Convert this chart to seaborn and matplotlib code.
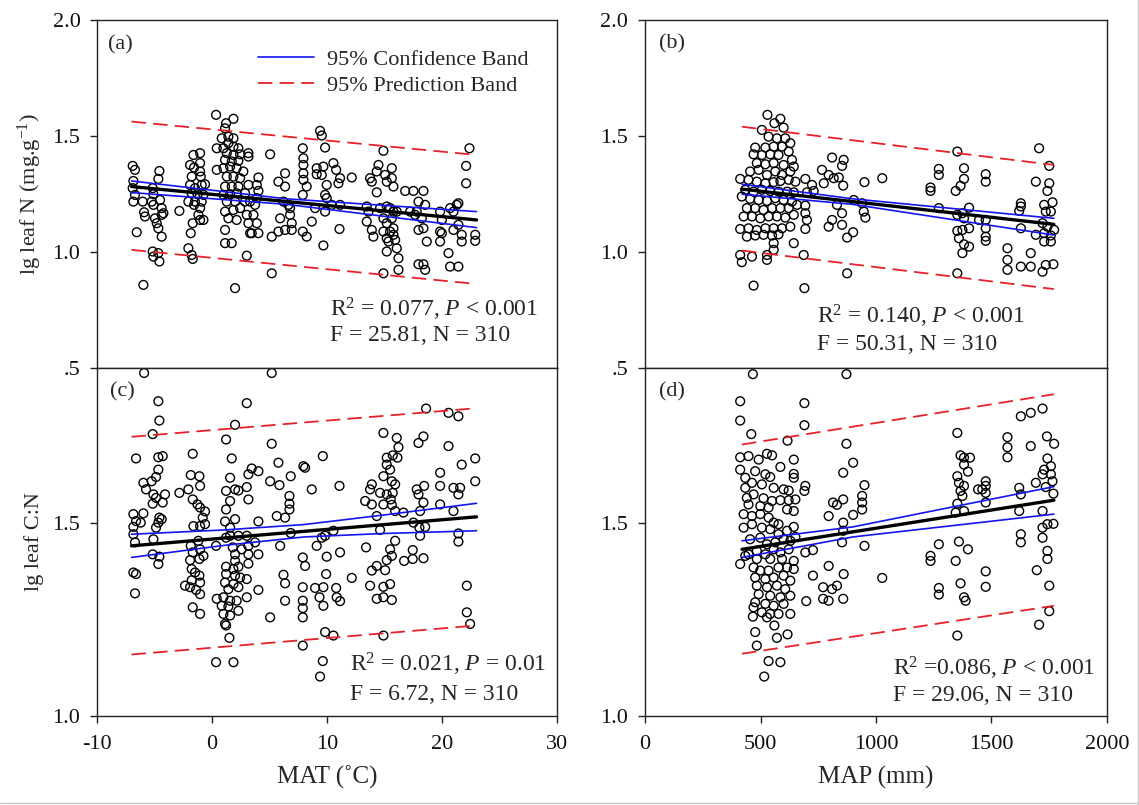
import matplotlib
matplotlib.use("Agg")
import matplotlib.pyplot as plt
import seaborn as sns
from matplotlib.lines import Line2D

# ---------------- data ----------------
# Panel (a): MAT vs lg leaf N
a_mat = [-6.90,-6.70,-6.84,-6.90,-6.70,-6.84,-6.55,-5.97,-6.03,-5.91,-5.83,-4.58,-4.67,-5.16,-5.10,-5.25,-4.52,-5.10,-4.38,-4.23,
         -4.96,-4.81,-4.67,-4.38,-5.16,-5.10,-4.67,-4.58,-4.38,-2.84,
         -1.62,-1.04,-1.91,-1.56,-1.04,-1.04,-1.77,-0.98,-1.91,-1.48,-0.90,-0.61,-1.77,-1.27,-0.75,-2.06,-1.48,-0.90,-1.56,-1.04,
         -1.19,-1.04,-1.68,-0.75,-1.85,-2.06,-1.77,-1.68,
         0.35,1.22,1.86,1.13,0.84,1.42,1.86,0.41,0.99,1.42,1.86,2.29,1.28,1.86,2.44,3.16,3.16,1.13,1.71,2.29,
         0.41,0.99,1.57,2.14,2.72,1.28,1.86,2.44,3.16,1.13,1.71,2.29,2.87,0.99,1.57,2.14,1.28,2.00,2.87,3.31,
         1.13,1.86,2.44,1.42,2.14,3.02,3.16,1.13,3.31,1.13,1.71,3.02,2.00,
         4.03,3.89,4.03,3.89,3.74,3.60,3.89,4.03,3.45,5.05,5.19,5.19,5.77,6.35,6.35,6.21,6.64,6.78,5.92,5.77,
         6.35,6.93,6.93,6.78,
         7.89,7.94,7.94,7.94,7.94,8.23,7.89,7.89,8.23,8.67,9.39,9.54,9.83,9.10,9.68,9.10,9.54,9.97,9.83,9.97,
         8.96,9.83,9.68,10.55,10.79,11.13,10.99,10.41,11.13,11.08,12.15,
         13.74,13.89,14.47,14.32,14.32,13.45,13.60,13.45,13.89,14.03,
         14.90,15.05,15.63,15.19,15.63,15.77,14.61,15.19,15.48,15.77,16.06,14.90,15.19,15.63,15.77,14.90,15.19,15.77,15.34,15.92,
         15.19,16.06,16.21,16.21,14.90,15.48,
         16.79,17.51,18.38,17.95,18.53,17.22,17.80,18.24,17.95,18.38,18.67,17.95,18.38,18.53,17.66,
         19.83,19.98,19.83,19.98,19.83,20.70,20.99,21.28,21.42,21.42,20.99,21.71,21.71,20.56,20.70,21.42,22.38,22.09,22.09,22.88,
         22.88]
a_lgN = [1.371,1.354,1.306,1.275,1.246,1.217,1.085,0.858,1.217,1.171,1.153,1.349,1.315,1.275,1.249,1.217,1.224,1.203,1.189,1.167,
         1.145,1.124,1.102,1.066,1.002,0.980,0.995,0.959,1.160,1.177,
         1.418,1.426,1.375,1.364,1.383,1.347,1.325,1.325,1.289,1.275,1.289,1.292,1.253,1.249,1.246,1.217,1.217,1.217,1.203,1.189,
         1.160,1.138,1.124,1.138,1.081,1.016,0.987,0.970,
         1.591,1.555,1.574,1.533,1.490,1.497,1.490,1.447,1.447,1.469,1.454,1.447,1.426,1.418,1.421,1.426,1.411,1.397,1.390,1.393,
         1.354,1.361,1.368,1.361,1.347,1.325,1.325,1.318,1.289,1.282,1.282,1.282,1.253,1.246,1.249,1.253,1.217,1.217,1.217,1.217,
         1.174,1.181,1.189,1.145,1.138,1.160,1.124,1.095,1.081,1.038,1.038,0.984,0.844,
         1.321,1.289,1.263,1.232,1.203,1.160,1.124,1.081,1.081,1.421,1.066,0.908,1.303,1.339,1.282,1.217,1.203,1.160,1.145,1.088,
         1.095,1.095,1.124,1.189,
         1.447,1.404,1.375,1.339,1.311,1.282,1.246,1.088,1.066,1.131,1.522,1.502,1.450,1.361,1.368,1.335,1.332,1.289,1.246,1.232,
         1.189,1.174,1.028,1.383,1.354,1.318,1.296,1.203,1.203,1.099,1.321,
         1.318,1.303,1.375,1.347,1.257,1.196,1.174,1.131,1.095,1.066,
         1.436,1.332,1.361,1.303,1.318,1.282,1.189,1.196,1.189,1.174,1.174,1.145,1.124,1.145,1.102,1.088,1.059,1.074,1.045,1.052,
         1.002,1.016,0.973,0.923,0.908,1.088,
         1.263,1.263,1.263,1.217,1.203,1.174,1.174,1.145,1.095,1.102,1.045,0.947,0.947,0.923,1.160,
         1.174,1.138,1.088,1.081,1.045,1.189,1.174,1.203,1.210,1.117,1.095,1.074,1.045,0.995,0.937,0.937,1.447,1.371,1.296,1.074,
         1.048]

# Panel (b): MAP vs lg leaf N
b_map = [530,560,586,600,506,535,571,607,629,477,521,557,593,470,506,542,578,622,636,484,
         521,557,600,644,455,492,528,564,593,629,412,448,484,521,557,586,622,651,434,470,
         506,542,578,615,644,419,455,492,528,564,600,636,441,477,513,550,586,622,658,427,
         463,499,535,571,607,644,412,448,484,521,557,593,629,441,477,513,550,578,644,557,
         557,412,419,463,528,528,470,694,701,694,694,701,694,687,690,723,730,
         810,860,853,766,795,817,839,774,858,831,853,810,795,853,875,901,904,875,950,1027,
         940,947,954,
         1272,1272,1236,1236,1345,1381,1381,1366,1352,1272,1403,1352,1374,1381,1352,1374,1403,1359,1381,1403,
         1374,1352,
         1475,1475,1446,1475,1475,1475,1475,1569,1569,1569,1627,1627,1620,1627,1627,1670,1670,1692,1706,1750,
         1750,1742,1764,1728,1735,1757,1721,1742,1771,1728,1757,1757,1728,1721,1735,1768,1692]
b_lgN = [1.591,1.555,1.574,1.536,1.526,1.497,1.490,1.490,1.469,1.450,1.450,1.454,1.454,1.421,1.418,1.421,1.418,1.433,1.397,1.383,
         1.378,1.383,1.375,1.368,1.347,1.354,1.332,1.347,1.332,1.347,1.315,1.311,1.303,1.296,1.301,1.306,1.311,1.303,1.268,1.260,
         1.268,1.263,1.260,1.260,1.257,1.239,1.229,1.224,1.220,1.232,1.224,1.217,1.189,1.189,1.181,1.189,1.189,1.189,1.203,1.153,
         1.153,1.145,1.153,1.153,1.148,1.160,1.099,1.102,1.095,1.102,1.102,1.102,1.109,1.066,1.071,1.074,1.071,1.076,1.038,1.038,
         1.009,0.987,0.956,0.980,0.987,0.966,0.855,1.315,1.257,1.200,1.167,1.138,1.099,0.987,0.844,1.289,1.263,
         1.407,1.397,1.371,1.354,1.332,1.318,1.321,1.296,1.286,1.203,1.167,1.138,1.109,1.117,1.062,1.085,1.224,0.908,1.301,1.318,
         1.210,1.174,1.148,
         1.358,1.332,1.278,1.263,1.263,1.361,1.315,1.285,1.433,1.189,1.191,1.160,1.167,1.145,1.091,1.095,1.102,1.059,1.033,1.023,
         0.995,0.908,
         1.335,1.303,1.138,1.138,1.102,1.066,1.048,1.016,0.966,0.923,1.210,1.196,1.177,1.102,0.937,0.995,0.937,1.303,1.447,1.371,
         1.296,1.263,1.214,1.203,1.174,1.174,1.124,1.109,1.095,1.081,1.071,1.045,1.045,0.915,0.944,0.947,1.074]

# Panel (c): MAT vs lg leaf C:N
c_mat = [-5.91,5.19,-4.67,-4.58,-5.16,3.02,2.00,1.22,5.19,-6.61,-4.67,-4.29,-1.68,1.71,5.77,9.63,7.94,8.09,6.84,3.45,
         3.16,4.03,5.05,5.86,8.67,11.08,6.73,6.73,6.73,5.63,6.35,4.03,6.84,5.92,9.10,9.54,9.83,10.55,7.89,8.09,
         9.97,11.13,6.21,6.35,9.92,12.15,7.89,8.96,9.68,10.79,9.34,6.35,7.89,7.89,7.89,9.68,10.84,11.13,5.05,9.83,
         10.55,7.89,9.63,9.39,0.35,1.86,1.51,1.22,
         -6.84,-5.97,-6.61,-6.84,-6.20,-6.84,-6.70,-5.10,-6.84,-6.61,-6.70,-5.16,-4.58,-4.67,-5.97,-5.74,-5.25,-4.87,-4.67,-5.10,
         -4.87,-4.29,-4.09,-5.16,-4.58,-4.67,-4.87,-4.38,
         -2.84,-2.06,-1.85,-1.10,-1.68,-1.04,-1.27,-1.04,-0.61,-0.81,-1.62,-1.04,-0.61,-1.85,-1.19,-1.04,-1.68,-0.75,-1.10,-1.91,
         -1.77,-1.48,-1.10,-1.77,-1.04,-1.91,-1.39,-1.04,-1.68,-1.04,-2.35,
         1.57,1.22,2.00,2.29,3.02,3.16,1.57,1.22,1.13,2.00,1.57,1.22,1.57,2.29,3.02,3.16,3.74,0.35,1.80,2.58,
         2.00,3.16,2.00,1.22,1.86,2.29,3.16,1.22,2.00,2.44,3.02,1.13,1.86,2.29,1.42,0.41,0.99,1.57,2.14,3.02,
         0.84,1.42,2.29,0.99,1.57,1.13,4.03,4.03,
         14.90,16.06,16.21,15.19,15.71,16.12,15.19,15.48,14.90,15.63,15.92,13.89,13.74,14.61,15.19,15.71,15.54,13.31,13.89,14.90,
         15.63,15.92,14.32,14.61,15.92,13.39,15.48,15.63,15.19,14.32,13.89,15.05,15.48,14.90,13.74,14.32,14.90,15.63,14.90,
         17.95,18.38,16.64,17.51,18.09,18.38,17.45,18.38,16.70,17.45,18.03,18.53,18.09,17.95,18.44,17.80,
         20.56,19.83,19.83,20.99,21.57,21.42,19.83,20.99,21.71,22.88,22.88,21.42,21.42,22.15,22.15,22.44,18.61,20.56,21.42]
c_lgCN = [1.887,1.887,1.814,1.764,1.729,1.809,1.753,1.715,1.704,1.666,1.669,1.672,1.678,1.666,1.655,1.672,1.646,1.642,1.620,1.640,
          1.625,1.633,1.607,1.597,1.586,1.595,1.569,1.549,1.534,1.517,1.513,1.503,1.473,1.440,1.440,1.461,1.466,1.479,1.410,1.388,
          1.412,1.423,1.365,1.343,1.367,1.357,1.333,1.331,1.333,1.331,1.307,1.298,1.298,1.279,1.255,1.285,1.307,1.297,1.255,1.217,
          1.208,1.182,1.142,1.102,1.139,1.139,1.202,1.234,
          1.522,1.524,1.504,1.489,1.500,1.470,1.449,1.457,1.371,1.367,1.317,1.418,1.412,1.393,1.603,1.586,1.607,1.618,1.637,1.573,
          1.564,1.552,1.573,1.549,1.513,1.500,1.487,1.509,
          1.577,1.586,1.623,1.620,1.560,1.595,1.547,1.539,1.529,1.513,1.491,1.491,1.496,1.440,1.453,1.431,1.423,1.414,1.406,1.403,
          1.380,1.371,1.363,1.351,1.345,1.333,1.326,1.315,1.281,1.264,1.337,
          1.616,1.582,1.586,1.583,1.592,1.560,1.556,1.534,1.503,1.509,1.487,1.461,1.466,1.466,1.466,1.440,1.449,1.440,1.436,1.431,
          1.418,1.418,1.401,1.386,1.380,1.386,1.394,1.367,1.363,1.358,1.354,1.345,1.341,1.333,1.328,1.303,1.307,1.298,1.298,1.307,
          1.285,1.283,1.272,1.264,1.260,1.238,1.326,1.418,
          1.732,1.719,1.695,1.668,1.674,1.668,1.650,1.637,1.620,1.607,1.599,1.599,1.586,1.577,1.573,1.577,1.560,1.556,1.547,1.547,
          1.546,1.530,1.517,1.481,1.453,1.436,1.431,1.414,1.403,1.388,1.376,1.377,1.341,1.334,1.337,1.303,1.307,1.300,1.208,
          1.706,1.723,1.526,1.500,1.530,1.552,1.429,1.408,1.401,1.406,1.487,1.489,1.466,1.573,1.595,1.586,
          1.698,1.629,1.595,1.590,1.590,1.573,1.547,1.530,1.650,1.666,1.607,1.472,1.451,1.337,1.268,1.238,1.795,1.784,1.775]

# Panel (d): MAP vs lg leaf C:N
d_map = [467,872,412,412,460,690,690,617,872,901,858,950,694,690,940,940,940,901,858,814,
         831,795,858,858,853,950,694,727,795,727,860,831,810,771,771,795,858,698,1027,
         412,448,492,528,550,586,644,412,434,477,521,542,644,644,463,506,557,600,622,434,
         441,470,513,550,586,622,651,448,499,535,615,644,427,463,499,535,557,578,427,463,
         506,542,578,615,644,651,455,499,528,564,600,629,412,448,484,521,557,586,622,434,
         484,542,593,644,470,499,535,578,615,644,477,521,557,600,629,484,528,571,607,492,
         542,586,629,477,521,557,600,470,506,542,578,629,467,528,560,477,484,571,617,535,
         586,516,
         1352,1366,1381,1407,1381,1398,1352,1359,1381,1366,1374,1352,1381,1345,1272,1236,1236,1345,1359,1398,
         1366,1272,1272,1381,1388,1352,1442,1475,1475,1475,1475,1460,1475,1475,
         1569,1569,1569,1627,1670,1721,1670,1740,1771,1742,1757,1728,1757,1721,1764,1692,1735,1768,1620,1627,
         1620,1721,1742,1768,1721,1627,1627,1721,1742,1742,1696,1750,1750,1706]
d_lgCN = [1.884,1.884,1.814,1.764,1.729,1.809,1.752,1.712,1.704,1.655,1.629,1.597,1.595,1.582,1.569,1.552,1.534,1.520,1.560,1.552,
          1.546,1.517,1.500,1.479,1.449,1.440,1.423,1.429,1.388,1.363,1.367,1.337,1.328,1.333,1.303,1.298,1.303,1.297,1.357,
          1.669,1.672,1.663,1.678,1.674,1.644,1.663,1.637,1.616,1.633,1.625,1.618,1.626,1.616,1.603,1.599,1.590,1.586,1.583,1.590,
          1.564,1.573,1.563,1.556,1.558,1.558,1.560,1.547,1.543,1.539,1.534,1.530,1.522,1.517,1.522,1.513,1.500,1.496,1.487,1.496,
          1.487,1.483,1.470,1.479,1.489,1.463,1.457,1.461,1.444,1.449,1.457,1.453,1.393,1.418,1.427,1.418,1.431,1.423,1.431,1.414,
          1.406,1.406,1.406,1.401,1.384,1.376,1.376,1.384,1.384,1.380,1.358,1.354,1.358,1.363,1.350,1.337,1.333,1.337,1.328,1.315,
          1.311,1.307,1.311,1.294,1.290,1.285,1.290,1.281,1.268,1.264,1.264,1.264,1.257,1.255,1.234,1.217,1.182,1.202,1.211,1.142,
          1.139,1.102,
          1.732,1.674,1.668,1.668,1.650,1.632,1.620,1.603,1.595,1.582,1.569,1.549,1.530,1.526,1.444,1.414,1.401,1.401,1.451,1.431,
          1.343,1.331,1.314,1.307,1.298,1.208,1.586,1.607,1.595,1.577,1.552,1.586,1.374,1.334,
          1.721,1.695,1.669,1.775,1.784,1.795,1.698,1.723,1.704,1.666,1.646,1.637,1.625,1.625,1.607,1.603,1.592,1.575,1.590,1.573,
          1.530,1.530,1.496,1.497,1.487,1.470,1.449,1.461,1.427,1.406,1.377,1.337,1.271,1.236]

# Regression lines, confidence and prediction bands
a_line_x = [-7, 23];  a_fit = [1.282, 1.138]
a_ci_x = [-7, 6.5, 23]; a_ci_up = [1.306, 1.229, 1.174]; a_ci_lo = [1.256, 1.205, 1.105]
a_pi_up = [1.562, 1.418]; a_pi_lo = [1.009, 0.862]

b_line_x = [420, 1770]; b_fit = [1.271, 1.119]
b_ci_x = [420, 900, 1770]; b_ci_up = [1.292, 1.229, 1.145]; b_ci_lo = [1.249, 1.205, 1.073]
b_pi_up = [1.540, 1.375]; b_pi_lo = [1.006, 0.840]

c_line_x = [-7, 23]; c_fit = [1.440, 1.515]
c_ci_x = [-7, 1, 8, 15, 23]; c_ci_up = [1.470, 1.481, 1.495, 1.520, 1.550]; c_ci_lo = [1.410, 1.441, 1.463, 1.472, 1.479]
c_pi_up = [1.722, 1.796]; c_pi_lo = [1.159, 1.234]

d_line_x = [420, 1770]; d_fit = [1.431, 1.558]
d_ci_x = [420, 900, 1770]; d_ci_up = [1.453, 1.489, 1.593]; d_ci_lo = [1.410, 1.463, 1.522]
d_pi_up = [1.702, 1.832]; d_pi_lo = [1.161, 1.285]

stats_text = {
    "a": ["R$^2$ = 0.077, $P$ < 0.001", "F = 25.81, N = 310"],
    "b": ["R$^2$ = 0.140, $P$ < 0.001", "F = 50.31, N = 310"],
    "c": ["R$^2$ = 0.021, $P$ = 0.01", "F = 6.72, N = 310"],
    "d": ["R$^2$ =0.086, $P$ < 0.001", "F = 29.06, N = 310"],
}
legend_labels = ["95% Confidence Band", "95% Prediction Band"]

# ---------------- style ----------------
sns.set_theme(style="ticks")
plt.rcParams['font.family'] = ['Liberation Serif', 'DejaVu Serif']
plt.rcParams['mathtext.fontset'] = 'custom'
plt.rcParams['mathtext.rm'] = 'Liberation Serif'
plt.rcParams['mathtext.it'] = 'Liberation Serif:italic'
plt.rcParams['mathtext.bf'] = 'Liberation Serif:bold'
plt.rcParams['axes.unicode_minus'] = False
plt.rcParams['axes.linewidth'] = 1.0
plt.rcParams['axes.edgecolor'] = '#222222'

BLUE = '#1414f0'
RED = '#e8202a'

fig = plt.figure(figsize=(11.39, 8.05), dpi=100)
axA = fig.add_axes([0.0852, 0.5429, 0.4039, 0.4323])
axB = fig.add_axes([0.5663, 0.5429, 0.4056, 0.4323])
axC = fig.add_axes([0.0852, 0.1106, 0.4039, 0.4323])
axD = fig.add_axes([0.5663, 0.1106, 0.4056, 0.4323])


def draw_panel(ax, x, y, lx, fit, cix, ciu, cil, piu, pil):
    assert len(x) == len(y)
    sns.scatterplot(x=x, y=y, ax=ax, marker='o', s=40, facecolors='none',
                    edgecolors='black', linewidths=1.0, zorder=2, legend=False)
    sns.lineplot(x=cix, y=ciu, ax=ax, color=BLUE, lw=1.2, errorbar=None, zorder=3,
                 label=legend_labels[0])
    sns.lineplot(x=cix, y=cil, ax=ax, color=BLUE, lw=1.2, errorbar=None, zorder=3)
    sns.lineplot(x=lx, y=piu, ax=ax, color=RED, lw=1.3, linestyle=(0, (8, 4)),
                 errorbar=None, zorder=3, label=legend_labels[1])
    sns.lineplot(x=lx, y=pil, ax=ax, color=RED, lw=1.3, linestyle=(0, (8, 4)),
                 errorbar=None, zorder=3)
    sns.lineplot(x=lx, y=fit, ax=ax, color='black', lw=2.4, errorbar=None, zorder=4)
    if ax.get_legend() is not None:
        ax.get_legend().remove()


draw_panel(axA, a_mat, a_lgN, a_line_x, a_fit, a_ci_x, a_ci_up, a_ci_lo, a_pi_up, a_pi_lo)
draw_panel(axB, b_map, b_lgN, b_line_x, b_fit, b_ci_x, b_ci_up, b_ci_lo, b_pi_up, b_pi_lo)
draw_panel(axC, c_mat, c_lgCN, c_line_x, c_fit, c_ci_x, c_ci_up, c_ci_lo, c_pi_up, c_pi_lo)
draw_panel(axD, d_map, d_lgCN, d_line_x, d_fit, d_ci_x, d_ci_up, d_ci_lo, d_pi_up, d_pi_lo)

TICK_FS = 16
for ax in (axA, axB, axC, axD):
    for sp in ax.spines.values():
        sp.set_visible(True)
        sp.set_linewidth(1.0)
    ax.tick_params(axis='both', direction='out', length=5, width=1.0,
                   labelsize=TICK_FS, colors='#222222', labelcolor='#111111')
    ax.tick_params(axis='y', pad=7)
    ax.tick_params(axis='x', pad=9)
    ax.set_xlabel("")
    ax.set_ylabel("")

for ax in (axA, axC):
    ax.set_xlim(-10, 30)
    ax.set_xticks([-10, 0, 10, 20, 30])
for ax in (axB, axD):
    ax.set_xlim(0, 2000)
    ax.set_xticks([0, 500, 1000, 1500, 2000])

for ax in (axA, axB):
    ax.set_ylim(0.5, 2.0)
    ax.set_yticks([0.5, 1.0, 1.5, 2.0])
    ax.set_yticklabels(['.5', '1.0', '1.5', '2.0'])
    ax.tick_params(axis='x', length=0, labelbottom=False)
for ax in (axC, axD):
    ax.set_ylim(1.0, 1.9)
    ax.set_yticks([1.0, 1.5])
    ax.set_yticklabels(['1.0', '1.5'])

axA.set_ylabel("lg leaf N (mg.g$^{-1}$)", fontsize=16, labelpad=6)
axC.set_ylabel("lg leaf C:N", fontsize=16, labelpad=6)
axC.set_xlabel("MAT (˚C)", fontsize=18, labelpad=8)
axD.set_xlabel("MAP (mm)", fontsize=18, labelpad=8)

# panel letters
for ax, lab, xf, yf in ((axA, "(a)", 0.024, 0.928), (axB, "(b)", 0.030, 0.930),
                        (axC, "(c)", 0.028, 0.931), (axD, "(d)", 0.030, 0.931)):
    ax.text(xf, yf, lab, transform=ax.transAxes, fontsize=16, ha='left', va='center')

# statistics
for ax, key, xf, y1, y2 in ((axA, "a", 0.507, 0.167, 0.093), (axB, "b", 0.372, 0.147, 0.068),
                            (axC, "c", 0.550, 0.147, 0.063), (axD, "d", 0.537, 0.138, 0.060)):
    ax.text(xf, y1, stats_text[key][0], transform=ax.transAxes, fontsize=17, ha='left', va='center')
    ax.text(xf, y2, stats_text[key][1], transform=ax.transAxes, fontsize=17, ha='left', va='center')

# legend in panel (a)
lines = axA.get_lines()
handles = [l for l in lines if l.get_label() in legend_labels]
axA.legend(handles=handles, labels=legend_labels, loc='upper left', bbox_to_anchor=(0.35, 0.915),
           frameon=False, fontsize=16, handlelength=2.5, handletextpad=0.6, labelspacing=0.25,
           borderpad=0, borderaxespad=0)

# faint screenshot border on the right and bottom
fig.add_artist(Line2D([0.9987, 0.9987], [0.0, 1.0], transform=fig.transFigure, color='#c8c8c8', lw=1.0))
fig.add_artist(Line2D([0.0, 1.0], [0.0025, 0.0025], transform=fig.transFigure, color='#c8c8c8', lw=1.0))

fig.savefig("out.png", dpi=100)
